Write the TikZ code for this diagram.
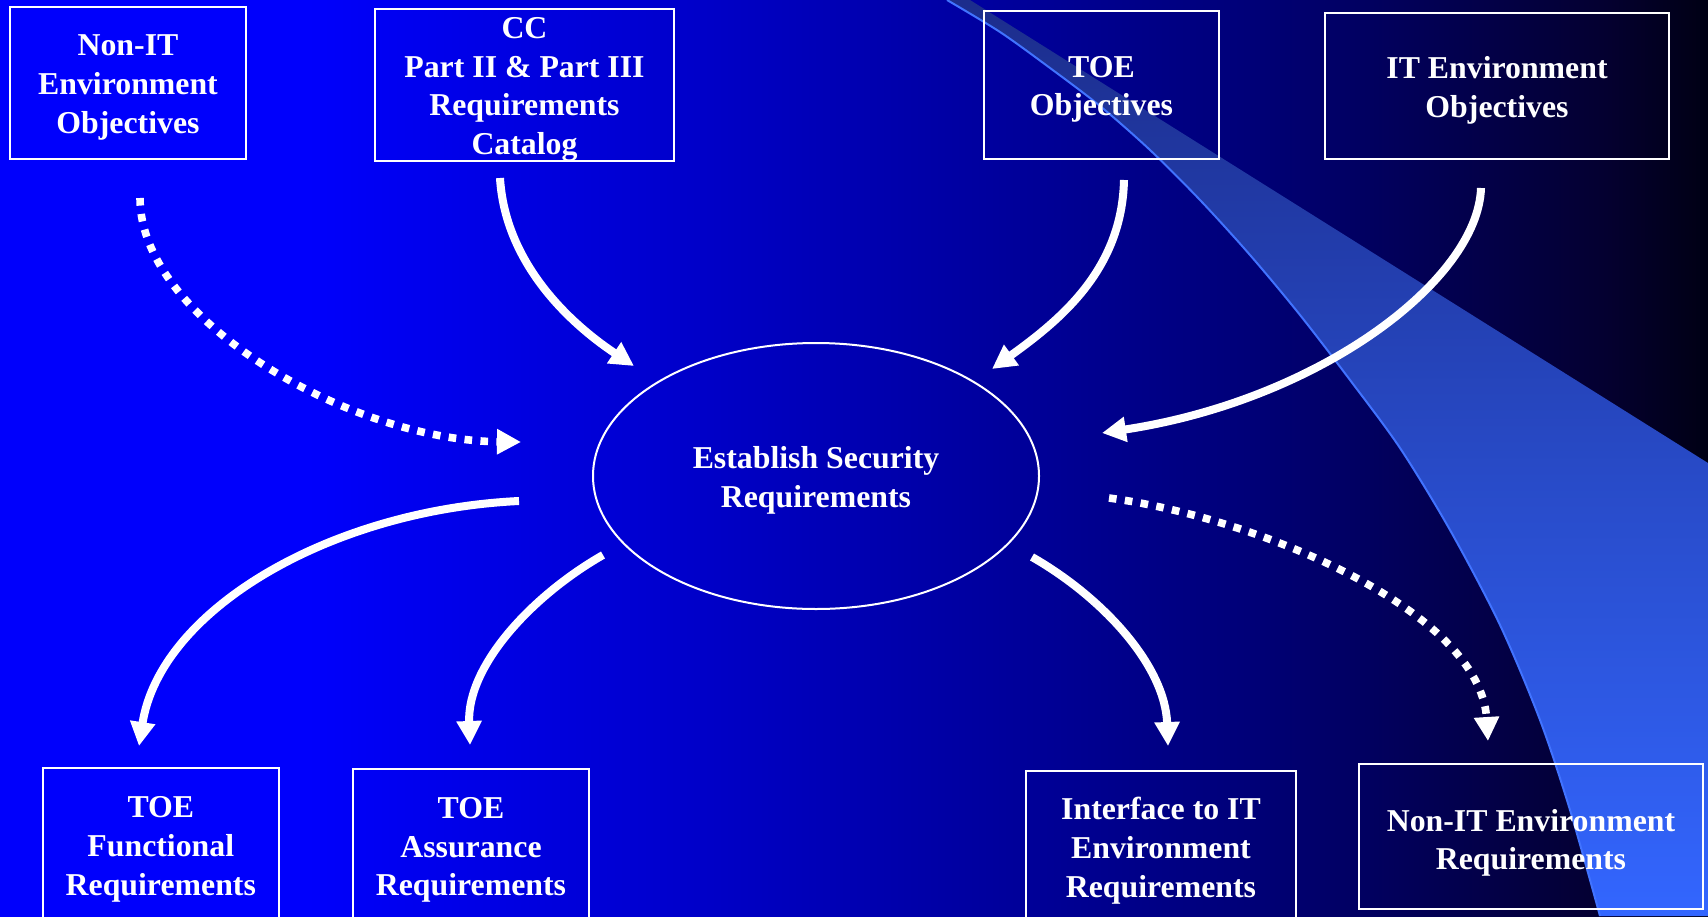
\documentclass[tikz,border=0pt]{standalone}
\usepackage{fontspec}
\setmainfont{Liberation Serif}
\usetikzlibrary{shapes.geometric,arrows.meta}
\definecolor{bga}{RGB}{0,0,252}
\definecolor{bgb}{RGB}{0,0,208}
\definecolor{bgc}{RGB}{0,0,120}
\definecolor{bgd}{RGB}{4,0,48}
\definecolor{bge}{RGB}{0,0,20}
\definecolor{swtop}{RGB}{28,45,140}
\definecolor{swmid}{RGB}{50,100,248}
\definecolor{swbot}{RGB}{51,102,255}
\definecolor{swedge}{RGB}{65,115,255}
\pgfdeclarehorizontalshading{bgshade}{100bp}{color(0bp)=(bga); color(25bp)=(bga); color(34bp)=(bga); color(44bp)=(bgb); color(61.5bp)=(bgc); color(72bp)=(bgd); color(75bp)=(bge); color(100bp)=(bge)}
\begin{document}
\begin{tikzpicture}[x=0.5pt,y=-0.5pt,
  box/.style={draw=white,line width=1pt,inner sep=0pt},
  lbl/.style={text=white,align=center,font=\bfseries\fontsize{15.9}{19.4}\selectfont,inner sep=0pt,yshift=-2.2pt},
  flow/.style={draw=white,line width=4pt,-{Triangle[length=12pt,width=12pt]}},
  dotflow/.style={flow,line width=3.8pt,dash pattern=on 3.8pt off 4.2pt}
]
\useasboundingbox (0,0) rectangle (1708,916);
\clip (0,0) rectangle (1708,916);
\shade[shading=bgshade] (0,0) rectangle (1708,916);
% swoosh
\shade[top color=swtop,middle color=swmid,bottom color=swbot]
  plot[smooth] coordinates {(947,0) (1000,32) (1050,68) (1100,106) (1150,150) (1200,200) (1250,255) (1300,315) (1350,380) (1400,448) (1450,530) (1500,625) (1540,720) (1570,810) (1600,916)}
  -- (1708,916) -- (1708,463) -- (970,0) -- cycle;
\draw[swedge,line width=1pt]
  plot[smooth] coordinates {(947,0) (1000,32) (1050,68) (1100,106) (1150,150) (1200,200) (1250,255) (1300,315) (1350,380) (1400,448) (1450,530) (1500,625) (1540,720) (1570,810) (1600,916)};

% boxes
\node[box,minimum width=118pt,minimum height=76pt] (b1) at (128,83) {};
\node[lbl] (t1) at (b1) {Non-IT\\Environment\\Objectives};
\node[box,minimum width=149.5pt,minimum height=76pt] (b2) at (524.5,85) {};
\node[lbl] (t2) at (b2) {CC\\Part II \& Part III\\Requirements\\Catalog};
\node[box,minimum width=117.5pt,minimum height=74pt] (b3) at (1101.5,85) {};
\node[lbl] (t3) at (b3) {TOE\\Objectives};
\node[box,minimum width=172pt,minimum height=73pt] (b4) at (1497,86) {};
\node[lbl] (t4) at (b4) {IT Environment\\Objectives};
\node[box,minimum width=118.25pt,minimum height=77pt] (b5) at (160.8,845) {};
\node[lbl] (t5) at (b5) {TOE\\Functional\\Requirements};
\node[box,minimum width=118pt,minimum height=77pt] (b6) at (471,845.5) {};
\node[lbl] (t6) at (b6) {TOE\\Assurance\\Requirements};
\node[box,minimum width=135pt,minimum height=75pt] (b7) at (1161,846) {};
\node[lbl] (t7) at (b7) {Interface to IT\\Environment\\Requirements};
\node[box,minimum width=172pt,minimum height=72.5pt] (b8) at (1531,836.5) {};
\node[lbl] (t8) at (1531,838.5) {Non-IT Environment\\Requirements};
\node[ellipse,draw=white,line width=1pt,minimum width=223pt,minimum height=133pt,inner sep=0pt] (el) at (816,476) {};
\node[lbl] (tel) at (el) {Establish Security\\Requirements};

% connector ends
\coordinate (a1s) at (140,198); \coordinate (a1e) at (521,442);
\coordinate (a2s) at (500,178); \coordinate (a2e) at (634,366);
\coordinate (a3s) at (1124,180); \coordinate (a3e) at (992,369);
\coordinate (a4s) at (1481,188); \coordinate (a4e) at (1102,433);
\coordinate (a5s) at (519,501); \coordinate (a5e) at (139,746);
\coordinate (a6s) at (603,555); \coordinate (a6e) at (470,745);
\coordinate (a7s) at (1032,557); \coordinate (a7e) at (1168,746);
\coordinate (a8s) at (1109,498); \coordinate (a8e) at (1488,741);

\draw[dotflow] (a1s) .. controls (140,320) and (350,440) .. (a1e);
\draw[flow] (a2s) .. controls (505,260) and (565,320) .. (a2e);
\draw[flow] (a3s) .. controls (1122,270) and (1060,320) .. (a3e);
\draw[flow] (a4s) .. controls (1478,280) and (1320,400) .. (a4e);
\draw[flow] (a5s) .. controls (330,510) and (160,610) .. (a5e);
\draw[flow] (a6s) .. controls (533,595) and (467,665) .. (a6e);
\draw[flow] (a7s) .. controls (1102,597) and (1165,665) .. (a7e);
\draw[dotflow] (a8s) .. controls (1259,518) and (1480,611) .. (a8e);
\end{tikzpicture}
\end{document}
